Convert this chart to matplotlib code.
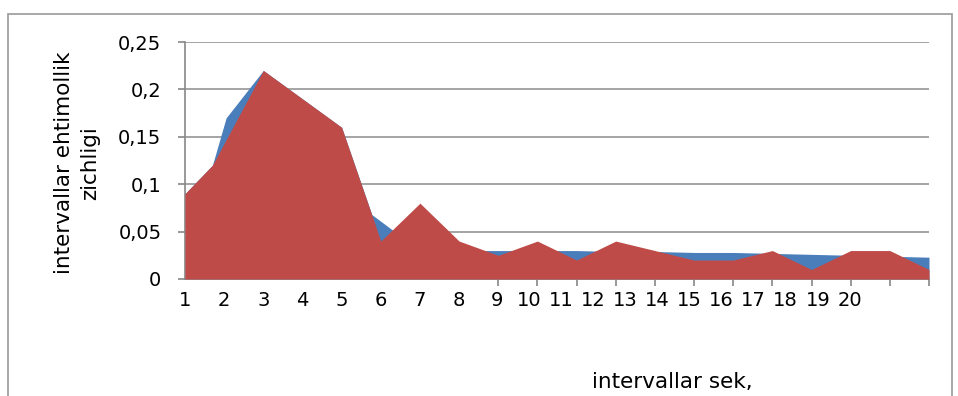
import matplotlib.pyplot as plt
from matplotlib.patches import Rectangle

# category positions (tick index) and values
blue_x = [0, 0.7, 1.05, 2, 3, 4, 4.77, 6, 7, 8, 9, 10, 11, 12, 13, 14, 15, 16, 17, 18, 19]
blue_y = [0.09, 0.12, 0.17, 0.22, 0.19, 0.16, 0.068, 0.03, 0.03, 0.03, 0.03, 0.03,
          0.029, 0.029, 0.028, 0.028, 0.027, 0.026, 0.025, 0.024, 0.023]

red_x = [0, 0.7, 2, 3, 4, 5, 6, 7, 8, 9, 10, 11, 12, 13, 14, 15, 16, 17, 18, 19]
red_y = [0.09, 0.12, 0.22, 0.19, 0.16, 0.04, 0.08, 0.04, 0.025, 0.04, 0.02, 0.04,
         0.03, 0.02, 0.02, 0.03, 0.01, 0.03, 0.03, 0.01]

n_ticks = 20
cat_labels = [str(i) for i in range(1, 21)]
y_ticks = [0, 0.05, 0.1, 0.15, 0.2, 0.25]
y_labels = ['0', '0,05', '0,1', '0,15', '0,2', '0,25']

fig = plt.figure(figsize=(9.58, 3.96), dpi=100)
fig.patches.append(Rectangle((8 / 958, -0.1), 944 / 958, 1.1 - 14 / 396,
                             transform=fig.transFigure, fill=False,
                             edgecolor='#9a9a9a', linewidth=1.2))

ax = fig.add_axes([185 / 958, 1 - 279 / 396, 744 / 958, 237 / 396])

ax.fill_between(blue_x, blue_y, color='#4a7ebb', linewidth=0, zorder=2)
ax.fill_between(red_x, red_y, color='#be4b48', linewidth=0, zorder=3)

ax.set_xlim(0, n_ticks - 1)
ax.set_ylim(0, 0.25)

# tick marks at every category, labels squeezed after 8 like the original
ax.set_xticks(range(n_ticks), minor=True)
label_pos = [i if i < 8 else 7.96 + (i - 8) * 0.82 for i in range(len(cat_labels))]
ax.set_xticks(label_pos)
ax.set_xticklabels(cat_labels)
ax.tick_params(axis='x', which='major', length=0, pad=9, labelsize=14)
ax.tick_params(axis='x', which='minor', length=5, width=1.2, color='#888888')

ax.set_yticks(y_ticks)
ax.set_yticklabels(y_labels)
ax.tick_params(axis='y', length=5, width=1.2, color='#888888', pad=12, labelsize=14)

ax.grid(axis='y', color='#8c8c8c', linewidth=1.1, zorder=1)
ax.set_axisbelow(True)
for side in ['top', 'right']:
    ax.spines[side].set_visible(False)
for side in ['left', 'bottom']:
    ax.spines[side].set_color('#888888')
    ax.spines[side].set_linewidth(1.2)

fig.text(77 / 958, 1 - 163 / 396, 'intervallar ehtimollik\nzichligi', rotation=90,
         ha='center', va='center', fontsize=15.5, multialignment='center', linespacing=1.4)
fig.text(672 / 958, 1 - 382 / 396, 'intervallar sek,', ha='center', va='center', fontsize=15.5)

fig.savefig('out.png', dpi=100)
